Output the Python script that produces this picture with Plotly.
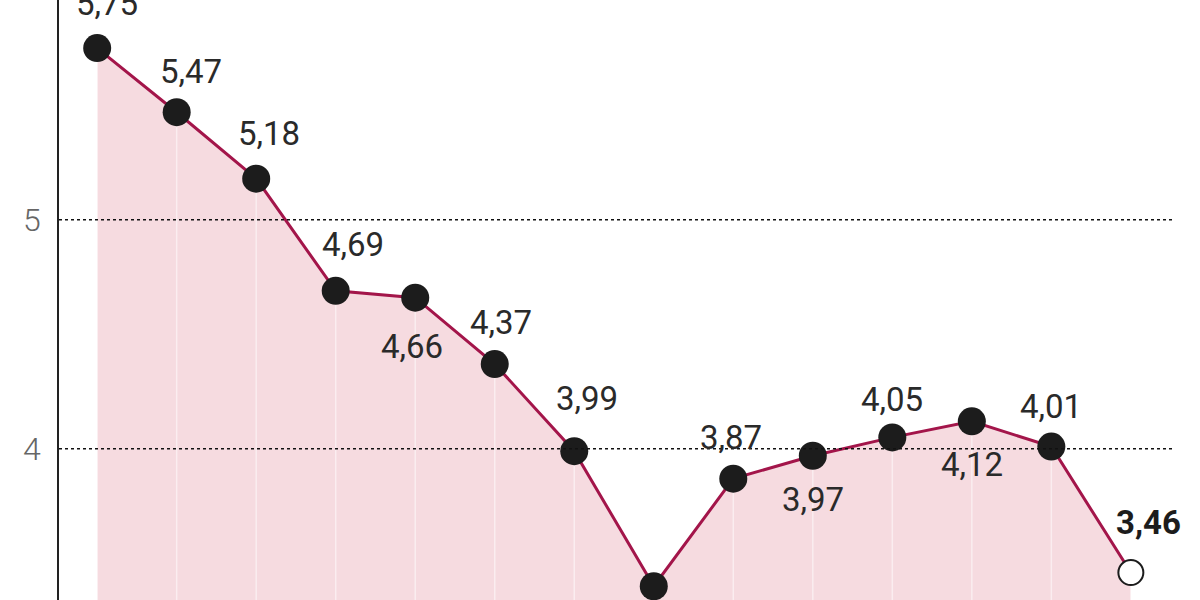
import plotly.graph_objects as go

# data
values = [5.75, 5.47, 5.18, 4.69, 4.66, 4.37, 3.99, 3.40, 3.87, 3.97, 4.05, 4.12, 4.01, 3.46]
y_ticks = [4, 5, 6]
y_tick_labels = ["4", "5", "6"]

x = list(range(len(values)))
Y_MIN, Y_MAX = 3.34, 5.96

# label placement (style): (xshift, yshift) in px
label_offsets = [(10, 45), (14, 41), (13, 45), (17, 46), (-3, -49), (6, 42), (13, 53),
                 (0, -48), (-2, 41), (0, -44), (0, 38), (0, -43), (0, 40), (18, 50)]

fig = go.Figure()

# filled area with faint white verticals
fig.add_trace(go.Scatter(
    x=x, y=values, mode="lines", line=dict(width=0, color="rgba(0,0,0,0)"),
    fill="tozeroy", fillcolor="#f6dbe0", hoverinfo="skip",
    error_y=dict(type="data", symmetric=False, array=[0] * len(values),
                 arrayminus=[v - Y_MIN + 0.1 for v in values],
                 color="rgba(255,255,255,0.5)", thickness=1.5, width=0),
))

# main line
fig.add_trace(go.Scatter(
    x=x, y=values, mode="lines",
    line=dict(color="#a3154a", width=3),
    hoverinfo="skip",
))

# markers
n = len(values)
fig.add_trace(go.Scatter(
    x=x[:-1], y=values[:-1], mode="markers",
    marker=dict(size=28, color="#1c1c1c", line=dict(width=0)),
))
fig.add_trace(go.Scatter(
    x=[x[-1]], y=[values[-1]], mode="markers",
    marker=dict(size=25, color="white", line=dict(width=2, color="#1c1c1c")),
))

# labels
for i, v in enumerate(values):
    dx, dy = label_offsets[i]
    txt = f"{v:.2f}".replace(".", ",")
    last = i == n - 1
    fig.add_annotation(
        x=x[i], y=v, text=f"<b>{txt}</b>" if last else txt,
        showarrow=False, xshift=dx, yshift=dy,
        xanchor="center", yanchor="middle",
        font=dict(family="Roboto", size=33, color="#1c1c1c" if last else "#2a2a2a"),
    )

# dotted gridlines above fill
for t in y_ticks:
    if Y_MIN < t < Y_MAX:
        fig.add_shape(type="line", xref="paper", yref="y", x0=0, x1=1, y0=t, y1=t,
                      line=dict(color="#111", width=1.5, dash="dot"), layer="above")

fig.update_layout(
    width=1200, height=600,
    margin=dict(l=59, r=27, t=0, b=0),
    paper_bgcolor="white", plot_bgcolor="white",
    showlegend=False,
    xaxis=dict(range=[-0.48, 13.53], visible=False, showgrid=False, zeroline=False),
    yaxis=dict(range=[Y_MIN, Y_MAX], tickvals=y_ticks, ticktext=y_tick_labels,
               showgrid=False, zeroline=False, showline=True, linecolor="#222", linewidth=1.5,
               ticks="", ticklabelstandoff=10,
               tickfont=dict(family="Roboto", size=32, color="#666", weight=300)),
)

fig.write_html("out.html", config={"displayModeBar": False},
               post_script="document.body.style.margin='0';document.body.style.overflow='hidden';")
